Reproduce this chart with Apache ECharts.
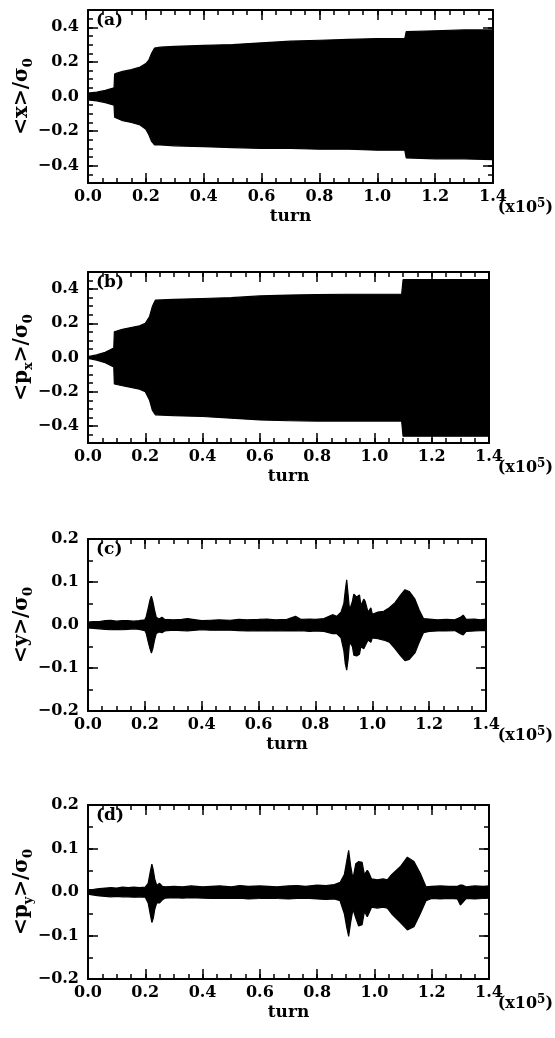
<!DOCTYPE html>
<html><head><meta charset="utf-8">
<script src="https://cdn.jsdelivr.net/npm/echarts@6/dist/echarts.min.js"></script>
<style>html,body{margin:0;padding:0;background:#fff}#c{width:555px;height:1038px}</style>
</head><body><div id="c"></div>
<script>
// ---- data (turn in units of 1e5; envelope of <.>/sigma0) ----
const xTickLabels = [0.0, 0.2, 0.4, 0.6, 0.8, 1.0, 1.2, 1.4];
const yTicksAB = [-0.4, -0.2, 0.0, 0.2, 0.4];
const yTicksCD = [-0.2, -0.1, 0.0, 0.1, 0.2];

const aTurn  = [0.00,0.03,0.06,0.09,0.092,0.10,0.12,0.15,0.18,0.20,0.21,0.22,0.23,0.25,0.30,0.40,0.50,0.60,0.70,0.80,0.90,1.00,1.095,1.10,1.20,1.30,1.40];
const aUpper = [0.020,0.025,0.035,0.050,0.130,0.135,0.145,0.155,0.170,0.190,0.210,0.250,0.280,0.285,0.290,0.295,0.300,0.310,0.320,0.325,0.330,0.335,0.335,0.375,0.380,0.385,0.385];
const aLower = [-0.020,-0.025,-0.035,-0.050,-0.120,-0.125,-0.140,-0.150,-0.165,-0.190,-0.220,-0.260,-0.280,-0.280,-0.285,-0.290,-0.295,-0.300,-0.300,-0.305,-0.305,-0.310,-0.310,-0.355,-0.360,-0.360,-0.365];

const bTurn  = [0.00,0.03,0.06,0.09,0.092,0.12,0.15,0.18,0.20,0.215,0.225,0.235,0.30,0.40,0.50,0.60,0.70,0.80,0.90,1.00,1.095,1.10,1.40];
const bUpper = [0.005,0.015,0.030,0.055,0.150,0.165,0.175,0.185,0.200,0.240,0.300,0.335,0.340,0.345,0.350,0.360,0.365,0.368,0.370,0.370,0.370,0.455,0.455];
const bLower = [-0.005,-0.015,-0.030,-0.055,-0.155,-0.165,-0.175,-0.185,-0.200,-0.250,-0.310,-0.335,-0.340,-0.345,-0.355,-0.365,-0.370,-0.372,-0.372,-0.372,-0.372,-0.460,-0.460];

const cTurn  = [0.00,0.02,0.04,0.06,0.08,0.10,0.12,0.14,0.16,0.18,0.20,0.205,0.212,0.218,0.223,0.228,0.234,0.24,0.25,0.26,0.27,0.30,0.33,0.35,0.38,0.40,0.43,0.46,0.50,0.53,0.56,0.60,0.63,0.66,0.70,0.73,0.75,0.78,0.80,0.83,0.86,0.875,0.89,0.90,0.905,0.910,0.915,0.92,0.93,0.935,0.945,0.955,0.96,0.97,0.975,0.985,0.995,1.00,1.02,1.04,1.06,1.08,1.10,1.115,1.13,1.15,1.165,1.18,1.20,1.23,1.26,1.29,1.31,1.32,1.33,1.36,1.38,1.40];
const cUpper = [0.007,0.008,0.008,0.010,0.011,0.009,0.010,0.010,0.009,0.010,0.012,0.020,0.040,0.058,0.067,0.055,0.035,0.018,0.014,0.018,0.013,0.012,0.013,0.015,0.012,0.010,0.011,0.012,0.011,0.013,0.012,0.013,0.014,0.012,0.013,0.020,0.013,0.014,0.013,0.015,0.024,0.020,0.030,0.050,0.080,0.105,0.070,0.035,0.055,0.072,0.065,0.070,0.045,0.060,0.055,0.030,0.040,0.025,0.030,0.032,0.040,0.052,0.070,0.082,0.078,0.060,0.035,0.015,0.014,0.012,0.013,0.012,0.018,0.023,0.013,0.014,0.012,0.014];
const cLower = [-0.007,-0.008,-0.009,-0.010,-0.011,-0.010,-0.011,-0.010,-0.009,-0.010,-0.013,-0.020,-0.040,-0.055,-0.065,-0.055,-0.035,-0.020,-0.016,-0.018,-0.014,-0.012,-0.013,-0.014,-0.012,-0.011,-0.012,-0.012,-0.012,-0.013,-0.014,-0.013,-0.014,-0.013,-0.014,-0.014,-0.013,-0.015,-0.014,-0.015,-0.020,-0.020,-0.030,-0.060,-0.090,-0.105,-0.080,-0.040,-0.050,-0.070,-0.072,-0.068,-0.050,-0.055,-0.058,-0.035,-0.040,-0.030,-0.032,-0.035,-0.040,-0.055,-0.072,-0.083,-0.080,-0.065,-0.040,-0.018,-0.015,-0.014,-0.014,-0.013,-0.020,-0.023,-0.015,-0.014,-0.013,-0.013];

const dTurn  = [0.00,0.02,0.04,0.06,0.08,0.10,0.12,0.14,0.16,0.18,0.20,0.21,0.217,0.223,0.228,0.233,0.24,0.25,0.26,0.27,0.30,0.33,0.36,0.40,0.43,0.46,0.50,0.53,0.56,0.60,0.63,0.66,0.70,0.73,0.76,0.80,0.83,0.86,0.88,0.895,0.903,0.910,0.917,0.925,0.935,0.945,0.957,0.965,0.975,0.98,0.99,1.01,1.03,1.045,1.06,1.09,1.115,1.138,1.16,1.18,1.20,1.23,1.26,1.29,1.30,1.307,1.32,1.35,1.38,1.40];
const dUpper = [0.005,0.006,0.008,0.009,0.010,0.009,0.011,0.010,0.011,0.010,0.011,0.020,0.045,0.064,0.050,0.030,0.015,0.020,0.013,0.012,0.013,0.012,0.014,0.012,0.013,0.014,0.012,0.015,0.013,0.014,0.013,0.012,0.014,0.015,0.013,0.016,0.015,0.017,0.022,0.040,0.070,0.096,0.060,0.030,0.065,0.070,0.068,0.040,0.050,0.045,0.030,0.028,0.030,0.028,0.040,0.058,0.080,0.070,0.043,0.012,0.013,0.014,0.013,0.013,0.016,0.016,0.012,0.014,0.013,0.014];
const dLower = [-0.005,-0.007,-0.009,-0.010,-0.011,-0.010,-0.011,-0.011,-0.012,-0.011,-0.012,-0.025,-0.050,-0.070,-0.060,-0.040,-0.025,-0.025,-0.018,-0.014,-0.013,-0.014,-0.013,-0.014,-0.015,-0.014,-0.015,-0.014,-0.016,-0.015,-0.014,-0.015,-0.016,-0.015,-0.014,-0.016,-0.017,-0.016,-0.020,-0.050,-0.080,-0.102,-0.070,-0.040,-0.060,-0.078,-0.075,-0.045,-0.057,-0.050,-0.035,-0.037,-0.035,-0.037,-0.050,-0.070,-0.087,-0.080,-0.050,-0.020,-0.015,-0.016,-0.015,-0.016,-0.030,-0.025,-0.015,-0.016,-0.015,-0.014];

// ---- layout ----
const FONT = 'DejaVu Serif';
const panels = [
  {tag:'(a)', name:'{m|<x>/σ}{s|0}', turn:aTurn, up:aUpper, lo:aLower, grid:{left:88, top:10, width:405, height:173}, ymin:-0.5, ymax:0.5, yMajor:yTicksAB},
  {tag:'(b)', name:'{m|<p}{s|x}{m|>/σ}{s|0}', turn:bTurn, up:bUpper, lo:bLower, grid:{left:88, top:272, width:401, height:171}, ymin:-0.5, ymax:0.5, yMajor:yTicksAB},
  {tag:'(c)', name:'{m|<y>/σ}{s|0}', turn:cTurn, up:cUpper, lo:cLower, grid:{left:88, top:539, width:398, height:172}, ymin:-0.2, ymax:0.2, yMajor:yTicksCD},
  {tag:'(d)', name:'{m|<p}{s|y}{m|>/σ}{s|0}', turn:dTurn, up:dUpper, lo:dLower, grid:{left:88, top:805, width:401, height:174}, ymin:-0.2, ymax:0.2, yMajor:yTicksCD}
];
const MINOR_STEP = 0.05;
const SEAM_OVERLAP = 0.004; // the two half-fills overlap slightly across zero (hides the anti-alias seam)

const frameLine = {color:'#000', width:2};
const tickLine = {color:'#000', width:1.5};
const fmtX = v => v.toFixed(1);
const fmtY = v => (v < -1e-9 ? '\u2212' : '') + Math.abs(v).toFixed(1);
const labelStyle = {fontFamily:FONT, fontWeight:'bold', fontSize:16, color:'#000'};

const grids = [], xAxes = [], yAxes = [], series = [], graphics = [];
panels.forEach((p, i) => {
  const g = Object.assign({outerBoundsMode:'none', containLabel:false}, p.grid);
  const gMain = grids.length;
  grids.push(Object.assign({}, g));
  const gMinor = grids.length;
  grids.push(Object.assign({}, g));

  // main grid: labels + long ticks
  const xb = xAxes.length;
  xAxes.push({type:'value', gridIndex:gMain, position:'bottom', min:0, max:1.4,
    axisLine:{show:false, onZero:false},
    axisTick:{show:true, inside:true, length:10, customValues:xTickLabels, lineStyle:tickLine},
    axisLabel:Object.assign({show:true, margin:6, customValues:xTickLabels, formatter:fmtX}, labelStyle),
    splitLine:{show:false},
    name:'turn', nameLocation:'middle', nameGap:25,
    nameTextStyle:{fontFamily:FONT, fontWeight:'bold', fontSize:17, color:'#000'}});
  xAxes.push({type:'value', gridIndex:gMain, position:'top', min:0, max:1.4,
    axisLine:{show:false, onZero:false},
    axisTick:{show:true, inside:true, length:10, customValues:xTickLabels, lineStyle:tickLine},
    axisLabel:{show:false}, splitLine:{show:false}});
  const yb = yAxes.length;
  yAxes.push({type:'value', gridIndex:gMain, position:'left', min:p.ymin, max:p.ymax,
    axisLine:{show:false, onZero:false},
    axisTick:{show:true, inside:true, length:10, customValues:p.yMajor, lineStyle:tickLine},
    axisLabel:Object.assign({show:true, margin:9, customValues:p.yMajor, formatter:fmtY}, labelStyle),
    splitLine:{show:false}});
  yAxes.push({type:'value', gridIndex:gMain, position:'right', min:p.ymin, max:p.ymax,
    axisLine:{show:false, onZero:false},
    axisTick:{show:true, inside:true, length:10, customValues:p.yMajor, lineStyle:tickLine},
    axisLabel:{show:false}, splitLine:{show:false}});

  // minor grid: frame + short ticks
  ['bottom','top'].forEach(pos => xAxes.push({type:'value', gridIndex:gMinor, position:pos, min:0, max:1.4, interval:MINOR_STEP,
    axisLine:{show:true, onZero:false, lineStyle:frameLine}, axisTick:{show:true, inside:true, length:5, lineStyle:tickLine},
    axisLabel:{show:false}, splitLine:{show:false}, z:5}));
  ['left','right'].forEach(pos => yAxes.push({type:'value', gridIndex:gMinor, position:pos, min:p.ymin, max:p.ymax, interval:MINOR_STEP,
    axisLine:{show:true, onZero:false, lineStyle:frameLine}, axisTick:{show:true, inside:true, length:5, lineStyle:tickLine},
    axisLabel:{show:false}, splitLine:{show:false}, z:5}));

  // upper and lower envelopes, each filled towards zero
  series.push({type:'line', xAxisIndex:xb, yAxisIndex:yb, data:p.turn.map((t, k) => [t, p.up[k]]),
    symbol:'none', silent:true, lineStyle:{color:'#000', width:1.2},
    areaStyle:{color:'#000', opacity:1, origin:-SEAM_OVERLAP}, z:1});
  series.push({type:'line', xAxisIndex:xb, yAxisIndex:yb, data:p.turn.map((t, k) => [t, p.lo[k]]),
    symbol:'none', silent:true, lineStyle:{color:'#000', width:1.2},
    areaStyle:{color:'#000', opacity:1, origin:SEAM_OVERLAP}, z:1});

  // y-axis title (rotated, with subscripts)
  graphics.push({type:'text', x:22, y:p.grid.top + p.grid.height / 2, rotation:Math.PI / 2,
    style:{text:p.name, align:'center', verticalAlign:'middle', fill:'#000',
      rich:{
        m:{fontFamily:FONT, fontWeight:'bold', fontSize:20, fill:'#000', lineHeight:26, verticalAlign:'middle'},
        s:{fontFamily:FONT, fontWeight:'bold', fontSize:13, fill:'#000', lineHeight:26, verticalAlign:'bottom'}}}});
  graphics.push({type:'text', left:p.grid.left + 8, top:p.grid.top + 2,
    style:{text:p.tag, font:'bold 17px "DejaVu Serif"', fill:'#000'}});
  graphics.push({type:'text', right:2, top:p.grid.top + p.grid.height + 15,
    style:{text:'(x10{s|5})', font:'bold 16px "DejaVu Serif"', fill:'#000',
      rich:{s:{fontFamily:FONT, fontWeight:'bold', fontSize:12, verticalAlign:'top', lineHeight:20}}}});
});

const chart = echarts.init(document.getElementById('c'), null, {renderer:'canvas'});
chart.setOption({
  animation:false, backgroundColor:'#fff',
  grid:grids, xAxis:xAxes, yAxis:yAxes, series:series, graphic:graphics
});
</script></body></html>
